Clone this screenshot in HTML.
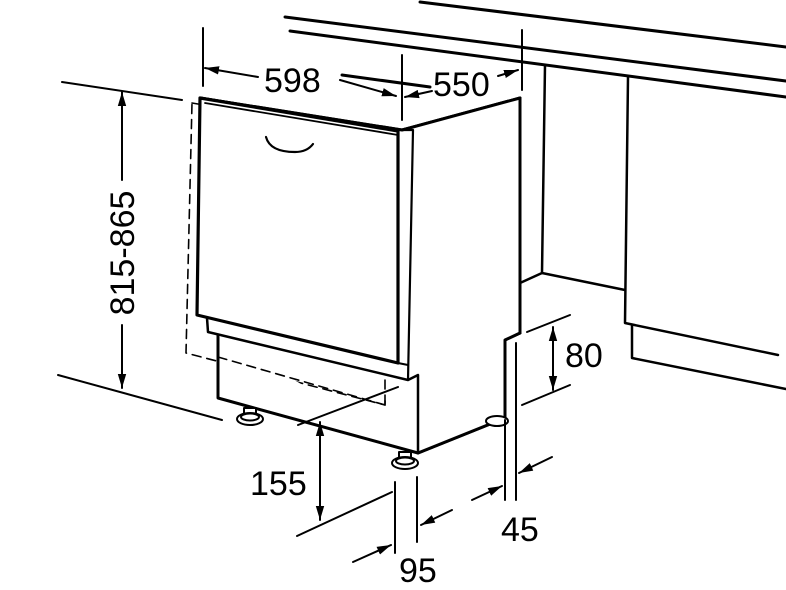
<!DOCTYPE html>
<html><head><style>
html,body{margin:0;padding:0;background:#fff}
svg{display:block}
text{font-family:"Liberation Sans",sans-serif;font-size:34px;fill:#000}
</style></head><body>
<svg width="786" height="590" viewBox="0 0 786 590" xmlns="http://www.w3.org/2000/svg">
<defs>
<marker id="a" viewBox="0 0 10 10" refX="10" refY="5" markerWidth="7" markerHeight="7" orient="auto-start-reverse" markerUnits="userSpaceOnUse">
<path d="M0,1 L10,5 L0,9 z" fill="#000"/></marker>
<marker id="b" viewBox="0 0 10 10" refX="10" refY="5" markerWidth="14" markerHeight="14" orient="auto-start-reverse" markerUnits="userSpaceOnUse">
<path d="M0,2 L10,5 L0,8 z" fill="#000"/></marker>
</defs>
<g fill="none" stroke="#000" stroke-linecap="round" stroke-linejoin="round">
<!-- countertop -->
<line x1="420" y1="2" x2="786" y2="47" stroke-width="3"/>
<line x1="285" y1="17" x2="786" y2="81" stroke-width="3"/>
<line x1="290" y1="31" x2="786" y2="97" stroke-width="3"/>
<!-- right cabinet -->
<polyline points="545,65 542,273 520,283" stroke-width="2.5"/>
<polyline points="542,273 625,290" stroke-width="2.5"/>
<polyline points="628,77 625,323 778,355" stroke-width="2.5"/>
<polyline points="632,325 632,358 786,389" stroke-width="2.5"/>
<!-- dashed niche -->
<polyline points="192,103 390,136 385,405 186,353 192,103" stroke-width="1.6" stroke-dasharray="9,6"/>
<!-- carcass -->
<polyline points="200,98 402,130 520,98 520,333 505,340 505,418 418,453" fill="#fff" stroke-width="3"/>
<polyline points="402,130 413,128" stroke-width="2"/>
<polygon points="200,98 402,130 520,98 520,333 505,340 505,418 418,453 418,375 408,380 208,332 197,315" fill="#fff" stroke="none"/>
<polyline points="200,98 402,130 520,98" stroke-width="3"/>
<line x1="520" y1="98" x2="520" y2="333" stroke-width="3"/>
<polyline points="520,333 505,340 505,418" stroke-width="3"/>
<line x1="418" y1="453" x2="505" y2="418" stroke-width="3"/>
<!-- door -->
<polygon points="200,98 398,131 398,363 197,315" fill="#fff" stroke-width="3.2"/>
<line x1="205" y1="103" x2="398" y2="135" stroke-width="1.8"/>
<polyline points="402,130 413,130 408,380" stroke-width="2.2"/>
<line x1="398" y1="363" x2="408" y2="365" stroke-width="2"/>
<!-- handle -->
<path d="M266,137 Q270,152 295,152 Q307,152 313,144" stroke-width="2.2"/>
<!-- plinth under door -->
<polyline points="207,318 208,332 408,380 418,375 418,453" stroke-width="2.5"/>
<polyline points="218,335 218,398 418,453" stroke-width="3" fill="#fff"/>
<!-- restore dashed part over kick -->
<line x1="218" y1="357" x2="385" y2="405" stroke-width="1.6" stroke-dasharray="9,6"/>
<line x1="385" y1="380" x2="385" y2="405" stroke-width="1.6" stroke-dasharray="9,6"/>
<!-- feet -->
<g stroke-width="2" fill="#fff">
<rect x="244" y="408" width="12" height="12"/>
<ellipse cx="250" cy="419" rx="13" ry="6"/>
<ellipse cx="250" cy="417" rx="9" ry="3.5"/>
<rect x="399" y="452" width="12" height="10"/>
<ellipse cx="405" cy="463" rx="13" ry="6"/>
<ellipse cx="405" cy="461" rx="9" ry="3.5"/>
<ellipse cx="497" cy="421" rx="11" ry="5"/>
</g>
<!-- 815-865 -->
<line x1="62" y1="82" x2="182" y2="100" stroke-width="2"/>
<line x1="58" y1="375" x2="222" y2="420" stroke-width="2"/>
<line x1="122" y1="180" x2="122" y2="92" stroke-width="2" marker-end="url(#b)"/>
<line x1="122" y1="325" x2="122" y2="388" stroke-width="2" marker-end="url(#b)"/>
<!-- 598 -->
<line x1="203" y1="28" x2="203" y2="86" stroke-width="2"/>
<line x1="258" y1="77" x2="205" y2="68" stroke-width="2" marker-end="url(#b)"/>
<line x1="340" y1="80" x2="396" y2="96" stroke-width="2" marker-end="url(#b)"/>
<!-- 550 -->
<line x1="402" y1="55" x2="402" y2="120" stroke-width="2"/>
<line x1="522" y1="30" x2="522" y2="90" stroke-width="2"/>
<line x1="342" y1="75" x2="430" y2="87" stroke-width="3"/>
<line x1="432" y1="91" x2="405" y2="97" stroke-width="2" marker-end="url(#b)"/>
<line x1="498" y1="76" x2="518" y2="70" stroke-width="2" marker-end="url(#b)"/>
<!-- 80 -->
<line x1="527" y1="332" x2="570" y2="315" stroke-width="2"/>
<line x1="522" y1="405" x2="570" y2="385" stroke-width="2"/>
<line x1="553" y1="358" x2="553" y2="327" stroke-width="2" marker-end="url(#b)"/>
<line x1="553" y1="358" x2="553" y2="390" stroke-width="2" marker-end="url(#b)"/>
<!-- 45 -->
<line x1="505" y1="420" x2="505" y2="500" stroke-width="2"/>
<line x1="516" y1="343" x2="516" y2="500" stroke-width="2"/>
<line x1="472" y1="500" x2="502" y2="486" stroke-width="2" marker-end="url(#b)"/>
<line x1="552" y1="457" x2="519" y2="473" stroke-width="2" marker-end="url(#b)"/>
<!-- 95 -->
<line x1="395" y1="482" x2="395" y2="553" stroke-width="2"/>
<line x1="417" y1="477" x2="417" y2="542" stroke-width="2"/>
<line x1="353" y1="562" x2="391" y2="545" stroke-width="2" marker-end="url(#b)"/>
<line x1="452" y1="510" x2="421" y2="525" stroke-width="2" marker-end="url(#b)"/>
<!-- 155 -->
<line x1="298" y1="425" x2="398" y2="387" stroke-width="2"/>
<line x1="297" y1="536" x2="392" y2="492" stroke-width="2"/>
<line x1="320" y1="470" x2="320" y2="422" stroke-width="2" marker-end="url(#b)"/>
<line x1="320" y1="470" x2="320" y2="520" stroke-width="2" marker-end="url(#b)"/>
</g>
<text x="264" y="92">598</text>
<text x="433" y="96">550</text>
<text x="565" y="367">80</text>
<text x="501" y="541">45</text>
<text x="399" y="582">95</text>
<text x="250" y="495">155</text>
<text transform="translate(134,253) rotate(-90)" text-anchor="middle">815-865</text>
</svg>
</body></html>
